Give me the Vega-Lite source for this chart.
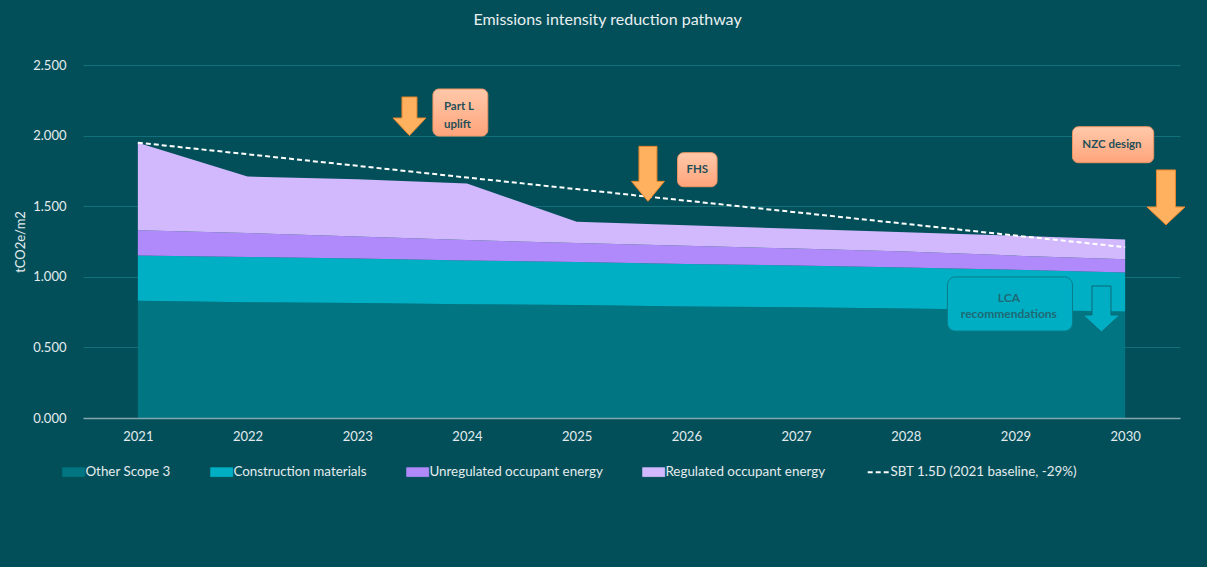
{
  "$schema": "https://vega.github.io/schema/vega-lite/v6.json",
  "width": 1097,
  "height": 353,
  "autosize": {"type": "none"},
  "padding": {"left": 83, "top": 65, "right": 27, "bottom": 149},
  "background": "#034F59",
  "title": {
    "text": "Emissions intensity reduction pathway",
    "font": "Lato",
    "fontSize": 16,
    "fontWeight": "normal",
    "color": "#E8F0F1",
    "anchor": "middle",
    "offset": 31,
    "dx": -24
  },
  "config": {"view": {"stroke": null}, "font": "Lato"},
  "datasets": {
    "emissions": [
      {"year": 2021, "series": "Other Scope 3", "value": 0.83},
      {"year": 2022, "series": "Other Scope 3", "value": 0.82},
      {"year": 2023, "series": "Other Scope 3", "value": 0.815},
      {"year": 2024, "series": "Other Scope 3", "value": 0.805},
      {"year": 2025, "series": "Other Scope 3", "value": 0.8},
      {"year": 2026, "series": "Other Scope 3", "value": 0.79},
      {"year": 2027, "series": "Other Scope 3", "value": 0.785},
      {"year": 2028, "series": "Other Scope 3", "value": 0.775},
      {"year": 2029, "series": "Other Scope 3", "value": 0.765},
      {"year": 2030, "series": "Other Scope 3", "value": 0.755},
      {"year": 2021, "series": "Construction materials", "value": 0.32},
      {"year": 2022, "series": "Construction materials", "value": 0.32},
      {"year": 2023, "series": "Construction materials", "value": 0.315},
      {"year": 2024, "series": "Construction materials", "value": 0.31},
      {"year": 2025, "series": "Construction materials", "value": 0.305},
      {"year": 2026, "series": "Construction materials", "value": 0.3},
      {"year": 2027, "series": "Construction materials", "value": 0.295},
      {"year": 2028, "series": "Construction materials", "value": 0.29},
      {"year": 2029, "series": "Construction materials", "value": 0.285},
      {"year": 2030, "series": "Construction materials", "value": 0.275},
      {"year": 2021, "series": "Unregulated occupant energy", "value": 0.18},
      {"year": 2022, "series": "Unregulated occupant energy", "value": 0.17},
      {"year": 2023, "series": "Unregulated occupant energy", "value": 0.155},
      {"year": 2024, "series": "Unregulated occupant energy", "value": 0.145},
      {"year": 2025, "series": "Unregulated occupant energy", "value": 0.135},
      {"year": 2026, "series": "Unregulated occupant energy", "value": 0.13},
      {"year": 2027, "series": "Unregulated occupant energy", "value": 0.12},
      {"year": 2028, "series": "Unregulated occupant energy", "value": 0.115},
      {"year": 2029, "series": "Unregulated occupant energy", "value": 0.1},
      {"year": 2030, "series": "Unregulated occupant energy", "value": 0.095},
      {"year": 2021, "series": "Regulated occupant energy", "value": 0.62},
      {"year": 2022, "series": "Regulated occupant energy", "value": 0.4},
      {"year": 2023, "series": "Regulated occupant energy", "value": 0.405},
      {"year": 2024, "series": "Regulated occupant energy", "value": 0.4},
      {"year": 2025, "series": "Regulated occupant energy", "value": 0.15},
      {"year": 2026, "series": "Regulated occupant energy", "value": 0.145},
      {"year": 2027, "series": "Regulated occupant energy", "value": 0.14},
      {"year": 2028, "series": "Regulated occupant energy", "value": 0.135},
      {"year": 2029, "series": "Regulated occupant energy", "value": 0.14},
      {"year": 2030, "series": "Regulated occupant energy", "value": 0.14}
    ],
    "sbt": [
      {"year": 2021, "value": 1.95},
      {"year": 2022, "value": 1.868},
      {"year": 2023, "value": 1.786},
      {"year": 2024, "value": 1.703},
      {"year": 2025, "value": 1.621},
      {"year": 2026, "value": 1.539},
      {"year": 2027, "value": 1.457},
      {"year": 2028, "value": 1.375},
      {"year": 2029, "value": 1.292},
      {"year": 2030, "value": 1.21}
    ],
    "callouts": [
      {"label": "Part L\nuplift", "x0": 2023.69, "x1": 2024.19, "y0": 2.33, "y1": 1.997, "tx": 2023.79, "ty": 2.2},
      {"label": "FHS", "x0": 2025.92, "x1": 2026.28, "y0": 1.879, "y1": 1.638, "tx": 2026.1, "ty": 1.756},
      {"label": "NZC design", "x0": 2029.52, "x1": 2030.26, "y0": 2.063, "y1": 1.808, "tx": 2029.88, "ty": 1.933},
      {"label": "LCA\nrecommendations", "x0": 2028.38, "x1": 2029.52, "y0": 0.999, "y1": 0.616, "tx": 2028.94, "ty": 0.85}
    ],
    "arrows": [
      {"name": "Part L", "x": 2023.476, "y": 2.137},
      {"name": "FHS", "x": 2025.65, "y": 1.729},
      {"name": "NZC", "x": 2030.372, "y": 1.562},
      {"name": "LCA", "x": 2029.784, "y": 0.772}
    ]
  },
  "layer": [
    {
      "data": {"name": "emissions"},
      "transform": [
        {"calculate": "indexof(['Other Scope 3', 'Construction materials', 'Unregulated occupant energy', 'Regulated occupant energy'], datum.series)", "as": "stackOrder"}
      ],
      "mark": {"type": "area", "interpolate": "linear"},
      "encoding": {
        "x": {
          "field": "year",
          "type": "quantitative",
          "scale": {"domain": [2020.5, 2030.5], "nice": false, "zero": false},
          "axis": {
            "values": [2021, 2022, 2023, 2024, 2025, 2026, 2027, 2028, 2029, 2030],
            "format": "d",
            "title": null,
            "grid": false,
            "ticks": false,
            "domainColor": "#7FA9AF",
            "domainWidth": 1.5,
            "labelColor": "#E3ECEE",
            "labelFont": "Lato",
            "labelFontSize": 13,
            "labelPadding": 12,
            "zindex": 1
          }
        },
        "y": {
          "field": "value",
          "type": "quantitative",
          "stack": "zero",
          "scale": {"domain": [0, 2.5], "nice": false},
          "axis": {
            "values": [0, 0.5, 1, 1.5, 2, 2.5],
            "format": ".3f",
            "title": "tCO2e/m2",
            "titleFont": "Lato",
            "titleFontSize": 13,
            "titleFontWeight": "normal",
            "titleColor": "#E3ECEE",
            "titlePadding": 5,
            "domain": false,
            "ticks": false,
            "gridColor": "#11707A",
            "gridWidth": 1,
            "labelColor": "#E3ECEE",
            "labelFont": "Lato",
            "labelFontSize": 13,
            "labelPadding": 17
          }
        },
        "order": {"field": "stackOrder", "type": "quantitative", "sort": "ascending"},
        "color": {
          "field": "series",
          "type": "nominal",
          "sort": ["Other Scope 3", "Construction materials", "Unregulated occupant energy", "Regulated occupant energy", "SBT 1.5D (2021 baseline, -29%)"],
          "scale": {
            "domain": ["Other Scope 3", "Construction materials", "Unregulated occupant energy", "Regulated occupant energy", "SBT 1.5D (2021 baseline, -29%)"],
            "range": ["#017682", "#00AFC4", "#B089FB", "#D2B9FD", "#FFFFFF"]
          },
          "legend": {
            "orient": "none",
            "legendX": -16,
            "legendY": 400,
            "direction": "horizontal",
            "title": null,
            "padding": 0,
            "labelColor": "#E3ECEE",
            "labelFont": "Lato",
            "labelFontSize": 13.4,
            "labelLimit": 0,
            "labelOffset": 5,
            "columnPadding": 37,
            "symbolSize": 484,
            "symbolType": "M-1,-0.4H1V0.4H-1Z",
            "symbolStrokeWidth": 1,
            "encode": {
              "symbols": {
                "update": {
                  "shape": {"signal": "datum.value === 'SBT 1.5D (2021 baseline, -29%)' ? 'M-1,0H1' : 'M-1,-0.4H1V0.4H-1Z'"},
                  "fill": {"signal": "datum.value === 'SBT 1.5D (2021 baseline, -29%)' ? 'transparent' : scale('color', datum.value)"},
                  "stroke": {"signal": "scale('color', datum.value)"},
                  "strokeDash": {"signal": "datum.value === 'SBT 1.5D (2021 baseline, -29%)' ? [5, 3] : [1, 0]"},
                  "strokeWidth": {"signal": "datum.value === 'SBT 1.5D (2021 baseline, -29%)' ? 2 : 1"},
                  "opacity": {"value": 1}
                }
              }
            }
          }
        }
      }
    },
    {
      "data": {"name": "sbt"},
      "mark": {"type": "line", "strokeDash": [5, 3], "strokeWidth": 2},
      "encoding": {
        "x": {"field": "year", "type": "quantitative"},
        "y": {"field": "value", "type": "quantitative"},
        "color": {"datum": "SBT 1.5D (2021 baseline, -29%)", "type": "nominal"}
      }
    },
    {
      "data": {"name": "callouts"},
      "transform": [{"filter": "datum.label !== 'LCA\\nrecommendations'"}],
      "mark": {
        "type": "rect",
        "cornerRadius": 6,
        "stroke": "#EE9663",
        "strokeWidth": 1,
        "fill": {
          "gradient": "linear",
          "x1": 0, "y1": 0, "x2": 0, "y2": 1,
          "stops": [{"offset": 0, "color": "#FFC9AA"}, {"offset": 1, "color": "#FFA47B"}]
        }
      },
      "encoding": {
        "x": {"field": "x0", "type": "quantitative"},
        "x2": {"field": "x1"},
        "y": {"field": "y0", "type": "quantitative"},
        "y2": {"field": "y1"}
      }
    },
    {
      "data": {"name": "callouts"},
      "transform": [{"filter": "datum.label === 'LCA\\nrecommendations'"}],
      "mark": {"type": "rect", "cornerRadius": 8, "stroke": "#0B7D8B", "strokeWidth": 1, "fill": "#00AEC4"},
      "encoding": {
        "x": {"field": "x0", "type": "quantitative"},
        "x2": {"field": "x1"},
        "y": {"field": "y0", "type": "quantitative"},
        "y2": {"field": "y1"}
      }
    },
    {
      "data": {"name": "callouts"},
      "transform": [{"filter": "datum.label === 'Part L\\nuplift'"}],
      "mark": {"type": "text", "align": "left", "baseline": "middle", "lineBreak": "\n", "lineHeight": 18, "font": "Lato", "fontSize": 11.5, "fontWeight": "bold", "color": "#1F4F58"},
      "encoding": {
        "x": {"field": "tx", "type": "quantitative"},
        "y": {"field": "ty", "type": "quantitative"},
        "text": {"field": "label"}
      }
    },
    {
      "data": {"name": "callouts"},
      "transform": [{"filter": "datum.label === 'FHS' || datum.label === 'NZC design'"}],
      "mark": {"type": "text", "align": "center", "baseline": "middle", "font": "Lato", "fontSize": 11.5, "fontWeight": "bold", "color": "#1F4F58"},
      "encoding": {
        "x": {"field": "tx", "type": "quantitative"},
        "y": {"field": "ty", "type": "quantitative"},
        "text": {"field": "label"}
      }
    },
    {
      "data": {"name": "callouts"},
      "transform": [{"filter": "datum.label === 'LCA\\nrecommendations'"}],
      "mark": {"type": "text", "align": "center", "baseline": "middle", "lineBreak": "\n", "lineHeight": 16, "font": "Lato", "fontSize": 12, "fontWeight": "bold", "color": "#1E6A74"},
      "encoding": {
        "x": {"field": "tx", "type": "quantitative"},
        "y": {"field": "ty", "type": "quantitative"},
        "text": {"field": "label"}
      }
    },
    {
      "data": {"name": "arrows"},
      "mark": {"type": "point", "filled": true, "size": 4, "opacity": 1, "strokeWidth": 1},
      "encoding": {
        "x": {"field": "x", "type": "quantitative"},
        "y": {"field": "y", "type": "quantitative"},
        "shape": {
          "field": "name",
          "type": "nominal",
          "scale": {
            "domain": ["Part L", "FHS", "NZC", "LCA"],
            "range": [
              "M-7.5,-19.25H7.5V1.75H16.5L0,19.25L-16.5,1.75H-7.5Z",
              "M-9,-27.5H9V7.5H16.5L0,27.5L-16.5,7.5H-9Z",
              "M-9.5,-27.5H9.5V9.5H19L0,27.5L-19,9.5H-9.5Z",
              "M-9.5,-23H9.5V6H18.5L0,23L-18.5,6H-9.5Z"
            ]
          },
          "legend": null
        },
        "fill": {
          "field": "name",
          "type": "nominal",
          "scale": {"domain": ["Part L", "FHS", "NZC", "LCA"], "range": ["#FFB160", "#FFB160", "#FFB160", "#00AEC4"]},
          "legend": null
        },
        "stroke": {
          "field": "name",
          "type": "nominal",
          "scale": {"domain": ["Part L", "FHS", "NZC", "LCA"], "range": ["#E5852B", "#E5852B", "#E5852B", "#0B6B77"]},
          "legend": null
        }
      }
    }
  ]
}
